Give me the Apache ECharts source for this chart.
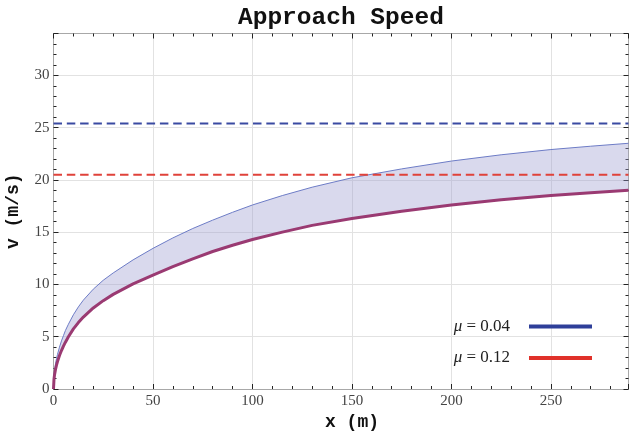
<!DOCTYPE html>
<html lang="en">
<head>
<meta charset="UTF-8">
<title>Approach Speed</title>
<style>
    html,body{margin:0;padding:0;background:#fff;}
    #main{width:629px;height:435px;}
</style>
</head>
<body>
<div id="main"></div>
<script src="https://cdn.jsdelivr.net/npm/echarts@6/dist/echarts.min.js"></script>
<script>
    // distance along the approach (m)
    var xs = [0, 0.25, 0.5, 1, 1.5, 2, 3, 4, 5, 6, 7.5, 10, 12.5, 15, 20, 25, 30, 40, 50, 60, 70, 80, 90, 100,
              115, 130, 150, 175, 200, 225, 250, 270, 289];
    // speed for mu = 0.04 (upper edge of band)
    var speed004 = [0, 1.2, 1.7, 2.4, 2.9, 3.3, 4.0, 4.6, 5.1, 5.6, 6.2, 7.1, 7.85, 8.5, 9.55, 10.4, 11.1, 12.35, 13.45,
                    14.45, 15.35, 16.15, 16.9, 17.6, 18.5, 19.3, 20.2, 21.05, 21.8, 22.4, 22.9, 23.22, 23.5];
    // speed for mu = 0.12 (lower edge of band)
    var speed012 = [0, 0.95, 1.33, 1.87, 2.28, 2.62, 3.2, 3.68, 4.1, 4.48, 5.0, 5.75, 6.35, 6.88, 7.75, 8.45, 9.05, 10.05, 10.9,
                    11.7, 12.45, 13.15, 13.75, 14.3, 15.0, 15.65, 16.3, 17.0, 17.6, 18.1, 18.5, 18.77, 19.0];
    // limiting speeds (dashed lines)
    var limit004 = 25.4;
    var limit012 = 20.5;
    var legendNames = ['μ = 0.04', 'μ = 0.12'];
    var xMax = 289, yMax = 34;

    function pairs(ys) {
        var res = [];
        for (var i = 0; i < xs.length; i++) res.push([xs[i], ys[i]]);
        return res;
    }

    var tickFont = {fontFamily: 'Liberation Serif', fontSize: 15, color: '#444'};
    var nameFont = {fontFamily: 'Liberation Mono', fontWeight: 'bold', fontSize: 18, color: '#111'};

    function frameAxis(extra) {
        var a = {
            min: 0,
            axisLine: {show: true, onZero: false, lineStyle: {color: '#a8a8a8', width: 1}},
            axisTick: {show: true, inside: true, length: 5, lineStyle: {color: '#222'}},
            minorTick: {show: true, splitNumber: 5, length: 3, lineStyle: {color: '#222'}},
            splitLine: {show: false},
            axisLabel: {show: false}
        };
        for (var k in extra) a[k] = extra[k];
        return a;
    }

    // filled band between the two curves
    function renderBand(params, api) {
        if (params.dataIndex > 0) return;
        var pts = [], i;
        for (i = 0; i < xs.length; i++) pts.push(api.coord([xs[i], speed004[i]]));
        for (i = xs.length - 1; i >= 0; i--) pts.push(api.coord([xs[i], speed012[i]]));
        return {
            type: 'polygon',
            shape: {points: pts},
            style: {fill: 'rgba(156,156,207,0.38)'}
        };
    }

    var myChart = echarts.init(document.getElementById('main'));
    var option = {
        animation: false,
        title: {
            text: 'Approach Speed',
            left: 238, top: 5, padding: 0,
            textStyle: {fontFamily: 'Liberation Mono', fontWeight: 'bold', fontSize: 24.5, color: '#111'}
        },
        grid: {left: 53.5, right: 0.5, top: 33.5, bottom: 46, containLabel: false, outerBoundsMode: 'none'},
        legend: {
            orient: 'vertical',
            right: 32, top: 313,
            align: 'right',
            itemWidth: 63, itemHeight: 4, itemGap: 14.5,
            icon: 'rect',
            data: [
                {name: legendNames[0], itemStyle: {color: '#2e3f99'}},
                {name: legendNames[1], itemStyle: {color: '#e0312a'}}
            ],
            formatter: function (name) {
                return '{m|μ}{t|' + name.slice(1) + '}';
            },
            textStyle: {
                padding: [0, 14, 0, 0],
                rich: {
                    m: {fontFamily: 'Liberation Serif', fontStyle: 'italic', fontSize: 17, color: '#222'},
                    t: {fontFamily: 'Liberation Serif', fontSize: 17, color: '#222'}
                }
            }
        },
        xAxis: [
            frameAxis({
                type: 'value', position: 'bottom', max: xMax, interval: 50,
                axisLabel: {show: true, margin: 5, showMaxLabel: false, textStyle: tickFont},
                splitLine: {show: true, lineStyle: {color: '#e2e2e2'}},
                name: 'x (m)', nameLocation: 'middle', nameGap: 24,
                nameTextStyle: {fontFamily: nameFont.fontFamily, fontWeight: 'bold', fontSize: 18, color: '#111', padding: [0, 0, 0, 22]}
            }),
            frameAxis({type: 'value', position: 'top', max: xMax, interval: 50})
        ],
        yAxis: [
            frameAxis({
                type: 'value', position: 'left', max: yMax, interval: 5,
                axisLabel: {show: true, margin: 4, showMaxLabel: false, textStyle: tickFont},
                splitLine: {show: true, lineStyle: {color: '#e2e2e2'}},
                name: 'v (m/s)', nameLocation: 'middle', nameGap: 31,
                nameTextStyle: nameFont
            }),
            frameAxis({type: 'value', position: 'right', max: yMax, interval: 5})
        ],
        series: [
            {
                name: 'band', type: 'custom', renderItem: renderBand,
                data: [[0, 0]], silent: true, z: 1
            },
            {
                name: 'upper', type: 'line', data: pairs(speed004),
                symbol: 'none', lineStyle: {color: '#6d7cc6', width: 1}
            },
            {
                name: 'lower', type: 'line', data: pairs(speed012),
                symbol: 'none', lineStyle: {color: '#9a3a72', width: 3}
            },
            {
                name: legendNames[0], type: 'line', data: [[0, limit004], [xMax, limit004]],
                symbol: 'none', itemStyle: {color: '#2e3f99'},
                lineStyle: {color: '#3a4aa2', width: 2, type: [8.5, 4.8]}
            },
            {
                name: legendNames[1], type: 'line', data: [[0, limit012], [xMax, limit012]],
                symbol: 'none', itemStyle: {color: '#e0312a'},
                lineStyle: {color: '#e0423a', width: 2, type: [8.5, 4.8]}
            }
        ]
    };
    myChart.setOption(option);
</script>
</body>
</html>
